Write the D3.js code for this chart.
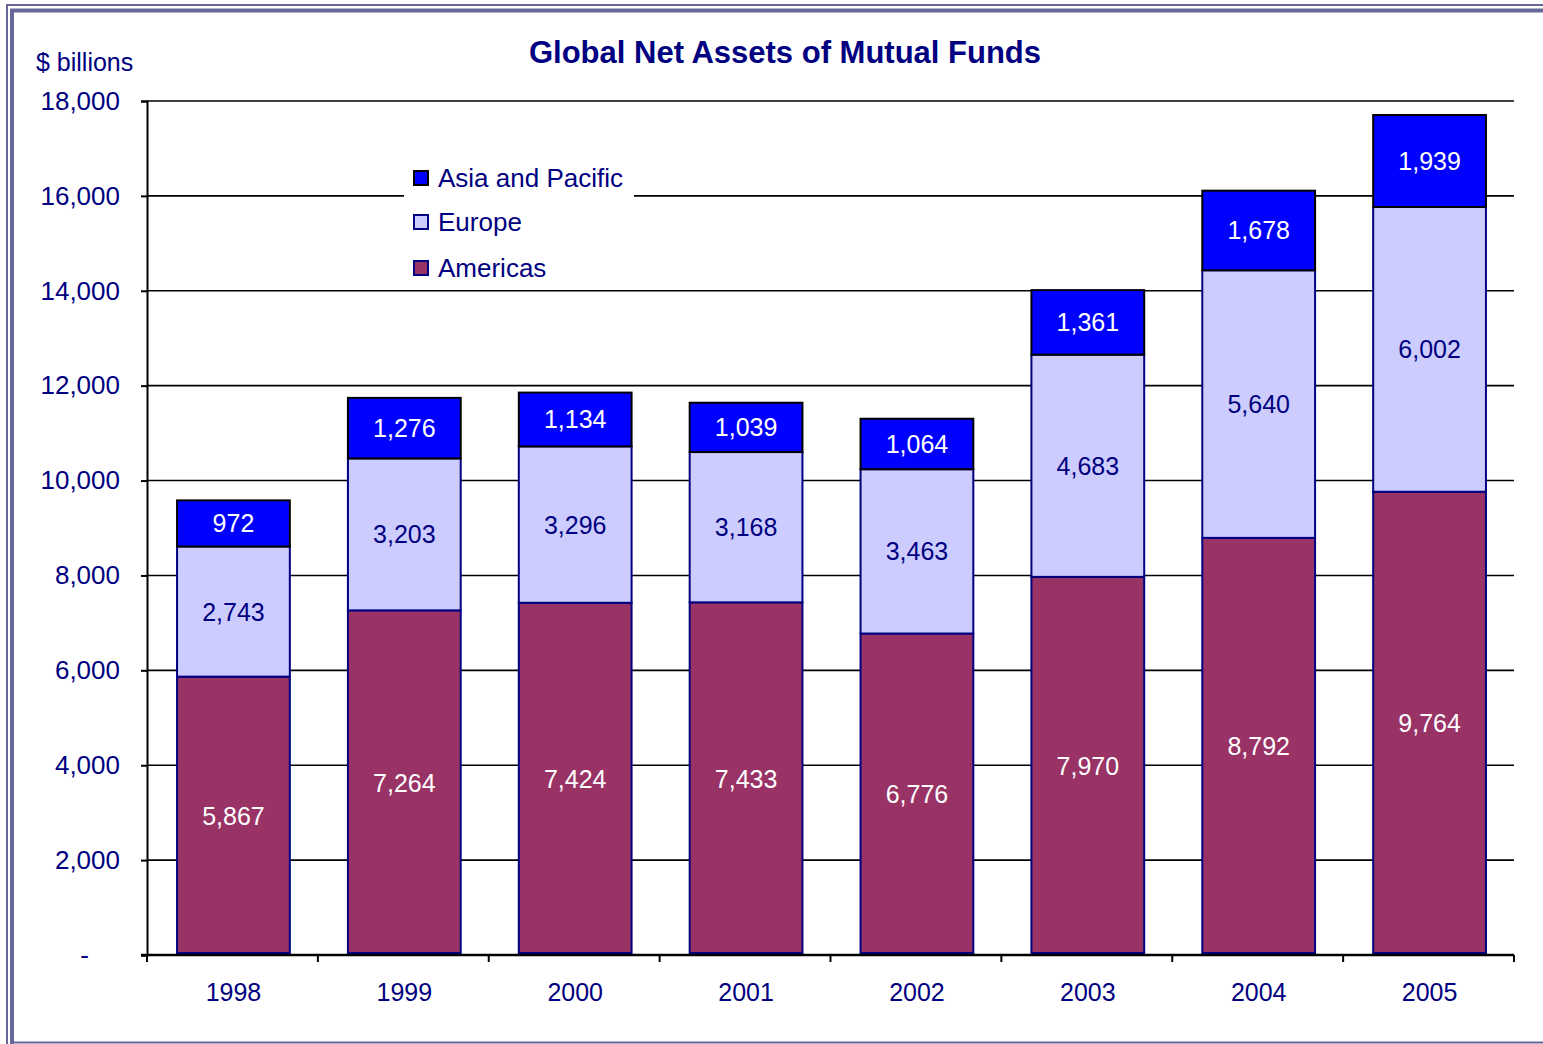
<!DOCTYPE html>
<html><head><meta charset="utf-8">
<script src="https://cdn.jsdelivr.net/npm/d3@7"></script>
<style>body{margin:0;background:#fff}svg{display:block}text{font-family:"Liberation Sans",Arial,sans-serif}</style>
</head><body><svg id="c" width="1543" height="1044"></svg>
<script>
const years = ["1998","1999","2000","2001","2002","2003","2004","2005"];
const americas = [5867,7264,7424,7433,6776,7970,8792,9764];
const europe = [2743,3203,3296,3168,3463,4683,5640,6002];
const asia = [972,1276,1134,1039,1064,1361,1678,1939];
const seriesNames = ["Americas","Europe","Asia and Pacific"];
const seriesColors = ["#993366","#CCCCFF","#0000FF"];
const yTicks = [0,2000,4000,6000,8000,10000,12000,14000,16000,18000];

const navy = "#000080";
const svg = d3.select("#c");
const W = 1543, H = 1044;
const m = {l:147, r:1514, t:101, b:955};

// border
svg.append("path").attr("d",`M7,${H} V5 H${W}`).attr("fill","none").attr("stroke","#666699").attr("stroke-width",2);
svg.append("path").attr("d",`M12,${H} V10.5 H${W}`).attr("fill","none").attr("stroke","#666699").attr("stroke-width",4);
svg.append("line").attr("x1",10).attr("x2",W).attr("y1",1042.5).attr("y2",1042.5).attr("stroke","#666699").attr("stroke-width",2);

const x = d3.scaleBand().domain(years).range([m.l,m.r]).paddingInner(0.34).paddingOuter(0.17);
const y = d3.scaleLinear().domain([0,18000]).range([m.b,m.t]);

// gridlines
svg.append("g").selectAll("line").data(yTicks.filter(d=>d>0)).join("line")
  .attr("x1",m.l).attr("x2",m.r).attr("y1",d=>y(d)).attr("y2",d=>y(d))
  .attr("stroke","#000").attr("stroke-width",1.6);

// stack
const table = years.map((yr,i)=>({year:yr, Americas:americas[i], Europe:europe[i], "Asia and Pacific":asia[i]}));
const stack = d3.stack().keys(seriesNames)(table);
const g = svg.append("g");
stack.forEach((s,si)=>{
  g.append("g").selectAll("rect").data(s).join("rect")
    .attr("x",d=>x(d.data.year)+1).attr("width",x.bandwidth())
    .attr("y",d=>y(d[1])).attr("height",d=>y(d[0])-y(d[1]) - (si===0?2:0))
    .attr("fill",seriesColors[si])
    .attr("stroke", si===2 ? "#000" : navy).attr("stroke-width",2);
});
stack.forEach((s,si)=>{
  g.append("g").selectAll("text").data(s).join("text")
    .attr("x",d=>x(d.data.year)+1+x.bandwidth()/2)
    .attr("y",d=>(y(d[0])+y(d[1]))/2)
    .attr("dy","0.36em").attr("text-anchor","middle")
    .attr("font-size",25).attr("fill", si===1 ? navy : "#fff")
    .text(d=>d3.format(",")(d[1]-d[0]));
});

// y axis
const ya = d3.axisLeft(y).tickValues(yTicks).tickSize(6).tickPadding(21)
  .tickFormat(d=> d===0 ? "-" : d3.format(",")(d));
const yg = svg.append("g").attr("transform",`translate(${m.l},0)`).call(ya);
yg.select(".domain").attr("stroke","#000").attr("stroke-width",2);
yg.selectAll(".tick line").attr("stroke","#000").attr("stroke-width",2);
yg.selectAll(".tick text").attr("font-size",26).attr("fill",navy).attr("font-family","Liberation Sans, Arial, sans-serif")
  .attr("dx",d=>d===0?-31:0);

// x axis
const xa = d3.axisBottom(x).tickSize(0).tickPadding(28);
const xg = svg.append("g").attr("transform",`translate(1,${m.b})`).call(xa);
xg.select(".domain").remove();
xg.selectAll(".tick text").attr("font-size",25).attr("fill",navy).attr("font-family","Liberation Sans, Arial, sans-serif");
svg.append("line").attr("x1",m.l-6).attr("x2",m.r).attr("y1",m.b).attr("y2",m.b).attr("stroke","#000").attr("stroke-width",2.5);
const bounds = d3.range(years.length+1).map(i=>m.l + i*(m.r-m.l)/years.length);
svg.append("g").selectAll("line").data(bounds).join("line")
  .attr("x1",d=>d).attr("x2",d=>d).attr("y1",m.b).attr("y2",m.b+7)
  .attr("stroke","#000").attr("stroke-width",2);

// title
svg.append("text").attr("x",785).attr("y",63).attr("text-anchor","middle")
  .attr("font-size",31).attr("font-weight","bold").attr("fill",navy).text("Global Net Assets of Mutual Funds");
svg.append("text").attr("x",36).attr("y",71).attr("font-size",25).attr("fill",navy).text("$ billions");

// legend
const lg = svg.append("g");
lg.append("rect").attr("x",404).attr("y",159).attr("width",230).attr("height",131).attr("fill","#fff");
const legOrder = [2,1,0];
const legY = [178,222,268];
legOrder.forEach((si,k)=>{
  lg.append("rect").attr("x",414).attr("y",legY[k]-7).attr("width",14).attr("height",14)
    .attr("fill",seriesColors[si]).attr("stroke", si===2?"#000":navy).attr("stroke-width",2);
  lg.append("text").attr("x",438).attr("y",legY[k]).attr("dy","0.36em")
    .attr("font-size",26).attr("fill",navy).text(seriesNames[si]);
});
</script></body></html>
